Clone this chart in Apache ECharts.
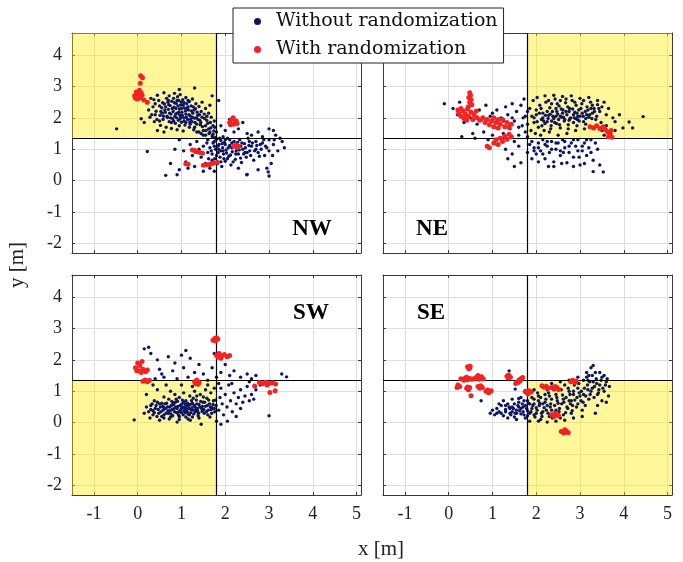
<!DOCTYPE html>
<html><head><meta charset="utf-8">
<script src="https://cdn.jsdelivr.net/npm/echarts@6/dist/echarts.min.js"></script>
<style>html,body{margin:0;padding:0;background:#fff}#c{width:683px;height:562px}</style>
</head><body><div id="c"></div>
<script>
const panelNames = ['NW','NE','SW','SE'];
const seriesNames = ['Without randomization','With randomization'];
const xRange = [-1.5, 5.1];
const yRange = [-2.3, 4.7];
const xSplit = 1.8;
const ySplit = 1.35;

const nwNavy = [[0.35,2.35],[0.42,2.21],[0.48,2.55],[0.51,2.08],[0.55,2.32],[0.58,1.95],[0.61,2.44],[0.63,2.18],[0.66,2.62],[0.68,2.01],[0.7,2.27],[0.72,1.88],[0.74,2.39],[0.76,2.12],[0.78,2.53],[0.8,1.97],[0.81,2.2],[0.83,2.34],[0.85,2.05],[0.86,1.83],[0.88,2.46],[0.9,2.15],[0.91,2.67],[0.93,1.92],[0.95,2.28],[0.96,2.09],[0.98,2.41],[1.0,1.86],[1.01,2.18],[1.03,2.58],[1.05,2.0],[1.07,2.31],[1.08,1.77],[1.1,2.12],[1.12,2.45],[1.14,1.95],[1.16,2.25],[1.18,1.7],[1.2,2.06],[1.22,2.38],[1.24,1.88],[1.26,2.15],[1.28,1.62],[1.3,1.99],[1.32,2.29],[1.35,1.8],[1.37,2.08],[1.4,1.55],[1.42,1.92],[1.45,2.2],[1.48,1.72],[1.5,1.45],[1.53,1.98],[1.56,1.6],[1.6,1.83],[1.63,1.5],[1.67,1.68],[1.7,1.42],[1.74,1.58],[1.78,1.38],
[0.22,2.48],[0.28,2.02],[0.3,2.62],[0.38,1.88],[0.45,2.72],[0.52,1.76],[0.6,2.8],[0.65,1.7],[0.72,2.7],[0.77,1.66],[0.84,2.78],[0.9,1.62],[0.97,2.74],[1.04,1.58],[1.1,2.65],[1.18,2.52],[1.25,2.6],[1.33,2.45],[1.4,2.36],[1.47,2.5],[1.55,2.3],[1.62,2.15],[1.68,2.02],[1.75,1.9],[0.15,1.85],[0.25,2.25],[0.4,2.45],[0.56,2.15],[0.69,2.5],[0.75,2.0],[0.82,2.62],[0.87,2.3],[0.94,2.55],[0.99,2.05],[1.06,2.48],[1.13,2.3],[1.19,1.85],[1.27,2.35],[1.34,2.0],[1.43,1.78],[1.52,2.12],[1.58,1.92],[1.65,2.4],[1.72,1.75],[0.45,1.6],[1.85,2.55],[1.3,2.95],[0.95,2.9],[0.6,1.55],[1.7,2.7],[-0.48,1.65],[0.22,0.93],[0.08,1.97],
[0.62,2.25],[0.67,2.05],[0.71,2.42],[0.73,2.15],[0.79,2.3],[0.82,1.9],[0.84,2.48],[0.87,2.12],[0.89,2.0],[0.92,2.38],[0.94,2.18],[0.97,1.98],[1.0,2.3],[1.02,2.08],[1.04,2.4],[1.06,1.9],[1.09,2.22],[1.11,2.02],[1.15,2.35],[1.17,2.1],[1.21,1.95],[1.23,2.22],[1.25,2.02],[1.29,2.25],[1.31,1.85],[1.36,2.18],[1.38,1.95],[1.41,2.1],[1.44,1.85],[1.47,2.02],[0.5,2.38],[0.53,2.2],[0.57,2.48],[0.59,2.05],[0.64,2.35],[0.77,1.85],[0.9,2.55],[1.0,2.5],[1.15,2.55],[0.7,2.55],[1.55,1.75],[1.58,2.05],[1.62,1.65],[1.66,1.85],[1.5,1.6],[1.45,1.5],[1.55,1.45],[1.65,1.55],[1.72,1.48],[1.76,1.7],[0.4,2.1],[0.44,1.95],[0.32,2.1],[0.37,2.58],[0.5,1.9],[1.2,1.8],[1.1,1.85],[0.95,1.75],[1.3,1.7],[1.35,1.55],
[1.6,1.3],[1.65,1.05],[1.7,0.85],[1.72,1.2],[1.76,0.7],[1.78,1.0],[1.8,1.32],[1.82,0.55],[1.84,0.9],[1.86,1.15],[1.88,0.75],[1.9,1.28],[1.92,0.45],[1.94,1.05],[1.96,0.85],[1.98,1.22],[2.0,0.62],[2.02,0.98],[2.05,1.35],[2.08,0.78],[2.1,1.12],[2.13,0.5],[2.16,0.92],[2.2,1.25],[2.23,0.68],[2.26,1.05],[2.3,0.85],[2.33,1.3],[2.37,0.58],[2.4,1.0],[2.44,1.18],[2.48,0.75],[2.52,1.35],[2.56,0.95],[2.6,1.1],[2.65,0.65],[2.7,1.25],[2.75,0.9],[2.8,1.15],[2.85,1.4],[2.9,0.8],[2.95,1.05],[3.0,1.3],[3.05,0.55],[3.1,1.15],[3.15,1.45],[3.2,0.95],[3.3,1.25],[3.35,1.05],[2.5,1.5],[2.2,1.55],[2.0,1.6],[1.9,1.75],[1.8,1.55],[2.3,1.65],[2.6,1.45],[2.75,1.55],[3.0,1.65],[3.1,1.6],[2.4,1.85],[2.1,1.95],[1.35,1.25],[1.4,1.0],[1.45,0.75],[1.5,1.1],[1.55,0.55],[1.25,0.8],[1.2,1.15],[1.1,0.6],[1.05,0.95],[0.95,0.35],[1.15,0.4],[1.3,0.45],[1.5,0.3],[1.65,0.4],[1.75,0.3],[2.3,0.4],[2.5,0.2],[2.75,0.35],[2.95,0.4],[3.0,0.15],[0.95,1.3],[0.85,1.0],[0.75,0.55],[1.6,0.9],[1.7,0.65],[1.85,1.0],[2.0,1.15],[2.15,1.2],[2.35,1.1],[2.45,0.9],[2.55,1.25],[1.95,0.95],[1.9,0.6],[2.05,0.7],[1.75,1.1],[2.25,0.95],[2.7,1.0],[2.85,1.2],[3.25,1.35],[0.64,0.17],[0.9,0.19],[2.49,0.19],[2.98,0.28],
[1.75,1.25],[1.8,0.8],[1.83,1.1],[1.87,1.35],[1.9,0.95],[1.93,1.18],[1.97,0.7],[2.0,1.3],[2.03,0.88],[2.07,1.05],[2.1,1.3],[2.12,0.82],[2.15,1.05],[2.18,0.6],[2.22,1.12],[2.24,0.85],[2.28,1.22],[2.32,0.98],[2.35,0.72],[2.38,1.2],[2.42,0.85],[2.46,1.05],[2.5,0.9],[2.54,1.12],[2.58,0.8],[2.62,1.2],[2.67,0.95],[2.72,1.12],[2.78,0.78],[2.82,1.0],[2.88,1.3],[2.92,1.1],[3.0,0.95],[3.08,0.8],[3.12,1.3],[1.68,0.95],[1.62,0.7],[1.58,1.2],[1.72,1.38],[1.95,1.4]];

const nwRed = [[-0.07,2.7],[-0.03,2.82],[0.02,2.75],[0.06,2.65],[0.0,2.6],[0.08,2.8],[-0.05,2.62],[0.04,2.88],[0.1,2.72],[0.07,3.34],[0.11,3.28],[0.14,2.57],[0.22,2.5],[0.06,3.1],
[2.1,1.85],[2.15,1.95],[2.2,1.8],[2.25,1.9],[2.18,2.0],[2.12,1.78],[2.27,1.82],
[2.2,1.1],[2.25,1.14],[2.3,1.1],[2.28,1.06],
[1.25,0.98],[1.3,0.96],[1.36,0.93],[1.42,0.9],[1.48,0.87],[1.33,0.92],
[1.1,0.54],[1.15,0.52],
[1.5,0.49],[1.58,0.51],[1.66,0.53],[1.74,0.56],[1.82,0.59],[1.62,0.5],[1.7,0.55]];

const neNavy = [[1.9,2.05],[1.95,1.85],[2.0,2.25],[2.05,1.7],[2.08,2.4],[2.12,1.95],[2.15,2.15],[2.18,1.6],[2.22,2.5],[2.25,1.88],[2.28,2.08],[2.31,2.32],[2.34,1.75],[2.37,2.2],[2.4,1.98],[2.43,2.6],[2.46,1.82],[2.49,2.12],[2.52,2.38],[2.55,1.68],[2.58,2.02],[2.61,2.25],[2.64,1.9],[2.67,2.48],[2.7,2.1],[2.73,1.78],[2.76,2.3],[2.79,2.0],[2.82,2.55],[2.85,1.85],[2.88,2.18],[2.91,2.4],[2.94,1.95],[2.97,2.25],[3.0,2.05],[3.04,2.45],[3.08,1.88],[3.12,2.2],[3.16,2.35],[3.2,2.02],[3.24,2.5],[3.28,2.15],[3.32,2.3],[3.36,1.95],[3.4,2.42],[3.45,2.2],[3.5,2.35],[3.55,2.5],[3.6,2.1],[3.48,1.85],
[1.85,2.3],[1.88,1.6],[1.93,2.55],[1.98,1.5],[2.02,2.65],[2.1,1.45],[2.2,2.7],[2.3,1.55],[2.4,2.72],[2.5,1.45],[2.6,2.68],[2.7,1.5],[2.8,2.7],[2.9,1.6],[3.0,2.62],[3.1,1.65],[3.2,2.65],[3.3,1.7],[3.4,2.55],[3.5,1.6],
[1.5,1.9],[1.55,2.2],[1.6,1.7],[1.65,2.4],[1.7,2.0],[1.75,1.55],[1.8,2.2],[1.45,2.45],[1.4,1.65],[1.35,2.1],[1.3,2.35],[1.25,1.5],[1.2,2.0],[1.15,1.35],[1.1,2.25],[1.05,1.7],[1.0,1.45],[0.95,2.05],[0.85,2.4],[0.8,1.55],[0.7,2.25],[0.65,1.8],[0.55,1.5],[0.45,2.35],[0.35,1.85],[0.25,2.5],[0.2,2.1],[0.1,2.3],[-0.1,2.45],[0.3,1.4],[0.6,1.35],[0.9,1.3],[1.6,1.45],[1.72,2.6],[1.8,1.4],
[3.6,1.75],[3.65,2.3],[3.7,1.5],[3.75,2.0],[3.8,1.6],[3.8,1.88],[3.98,1.68],[4.12,1.87],[4.2,1.68],[4.44,2.04],[3.9,2.1],[3.55,1.45],
[2.15,2.0],[2.25,2.2],[2.35,1.9],[2.45,2.3],[2.55,2.05],[2.65,1.95],[2.75,2.2],[2.85,2.1],[2.95,2.05],[3.05,2.15],[2.2,1.82],[2.6,2.15],[2.9,1.98],[2.0,2.1],[2.45,2.05],[2.75,1.92],[3.15,2.1],[2.35,2.45],[2.55,2.55],[3.25,2.3],
[1.95,2.0],[2.02,1.88],[2.07,2.15],[2.11,2.3],[2.17,1.9],[2.21,2.08],[2.27,1.98],[2.32,2.12],[2.38,2.05],[2.42,1.85],[2.47,2.2],[2.51,1.95],[2.57,2.28],[2.62,2.02],[2.68,2.2],[2.72,2.35],[2.77,1.98],[2.83,2.28],[2.87,2.0],[2.93,2.15],[2.98,1.9],[3.02,2.3],[3.07,2.05],[3.13,1.98],[3.18,2.25],[3.22,2.1],[3.27,1.98],[3.33,2.2],[3.38,2.05],[3.43,2.3],[2.13,1.75],[2.33,1.65],[2.53,1.78],[2.73,1.65],[2.93,1.75],[3.13,1.8],[2.28,2.55],[2.48,2.45],[2.68,2.6],[2.88,2.5],[3.08,2.55],[3.28,2.4],[1.8,1.8],[1.75,2.05],[1.68,1.75],[1.45,2.0],[1.25,1.9],[1.0,2.15],[0.75,1.95],[0.5,2.0],
[1.9,1.25],[1.95,1.05],[2.0,0.85],[2.05,1.2],[2.1,0.95],[2.15,1.3],[2.2,0.7],[2.25,1.1],[2.3,0.9],[2.35,1.25],[2.4,0.6],[2.45,1.0],[2.5,1.2],[2.55,0.8],[2.6,1.3],[2.65,1.05],[2.7,0.57],[2.75,0.9],[2.8,1.2],[2.85,0.75],[2.9,1.1],[2.95,1.3],[3.0,0.5],[3.05,0.95],[3.1,1.2],[3.15,0.8],[3.2,1.05],[3.25,1.3],[3.3,0.65],[3.3,0.29],[3.4,1.0],[3.45,0.5],[3.53,0.28],[1.5,0.45],[1.65,0.57],[1.8,0.9],[1.6,1.1],[1.45,0.85],[1.3,1.0],[1.5,1.25],[1.35,0.7],[1.1,1.15],[1.85,1.15],[2.05,0.6],[2.28,0.45],[2.62,0.9],[2.98,0.75],[3.35,1.2],
[1.95,0.95],[2.05,1.05],[2.15,0.85],[2.25,1.25],[2.35,1.0],[2.45,1.2],[2.55,0.95],[2.65,1.25],[2.75,1.1],[2.85,1.3],[2.95,0.95],[3.05,1.1],[3.15,1.3],[2.4,0.45],[2.58,0.55],[2.85,0.45],[3.1,0.55],[2.2,1.15],[1.9,0.7],[3.25,0.9]];

const neRed = [[0.48,2.8],[0.5,2.72],[0.46,2.65],[0.51,2.58],[0.48,2.5],[0.53,2.42],[0.45,2.35],
[0.23,2.15],[0.28,2.05],[0.33,2.22],[0.35,1.98],[0.38,2.12],[0.43,2.28],[0.45,2.05],[0.51,2.18],[0.55,1.95],[0.58,2.1],[0.63,2.22],[0.65,2.0],[0.71,1.92],[0.21,2.25],[0.28,2.3],[0.41,1.92],
[0.78,2.0],[0.83,1.85],[0.88,1.95],[0.93,1.78],[0.98,1.9],[1.03,1.72],[1.08,1.85],[1.13,1.68],[1.18,1.8],[1.23,1.95],[1.28,1.72],[1.33,1.85],[1.38,1.7],[1.43,1.8],[1.03,2.0],[1.13,1.95],
[1.03,1.2],[1.08,1.3],[1.13,1.15],[1.18,1.35],[1.23,1.25],[1.28,1.42],[1.33,1.32],[1.38,1.48],[1.43,1.4],[0.93,1.05],[0.88,1.1],
[3.23,1.72],[3.31,1.68],[3.38,1.75],[3.45,1.66],[3.53,1.72],[3.58,1.62],[3.63,1.55],[3.68,1.45],[3.73,1.38],[3.65,1.4],[3.71,1.6],[3.51,1.68]];

const swNavy = [[0.25,0.35],[0.3,0.55],[0.35,0.25],[0.4,0.45],[0.45,0.65],[0.48,0.3],[0.52,0.5],[0.55,0.2],[0.58,0.4],[0.62,0.6],[0.65,0.3],[0.68,0.5],[0.71,0.75],[0.74,0.38],[0.77,0.55],[0.8,0.22],[0.83,0.45],[0.86,0.65],[0.89,0.32],[0.92,0.52],[0.95,0.8],[0.98,0.4],[1.01,0.6],[1.04,0.25],[1.07,0.48],[1.1,0.7],[1.13,0.35],[1.16,0.55],[1.19,0.85],[1.22,0.42],[1.25,0.62],[1.28,0.28],[1.31,0.5],[1.34,0.72],[1.37,0.38],[1.4,0.58],[1.43,0.9],[1.46,0.45],[1.49,0.65],[1.52,0.3],[1.55,0.52],[1.58,0.78],[1.61,0.4],[1.64,0.6],[1.67,0.95],[1.7,0.48],[1.73,0.7],[1.76,0.35],[1.79,0.55],
[0.2,0.5],[0.28,0.15],[0.38,0.7],[0.5,0.08],[0.6,0.82],[0.72,0.12],[0.85,0.9],[0.95,0.1],[1.05,0.95],[1.15,0.12],[1.3,1.0],[1.4,0.15],[1.55,1.05],[1.65,0.18],[1.75,1.1],[1.8,0.05],[1.45,-0.05],[0.9,0.02],[1.2,0.08],[0.7,0.3],[0.82,0.58],[0.93,0.25],[1.0,0.45],[1.08,0.32],[1.12,0.52],[1.18,0.25],[1.24,0.48],[1.33,0.42],[1.38,0.22],[1.47,0.36],[1.6,0.25],[1.68,0.42],[0.6,0.48],[0.47,0.42],[0.35,0.38],[1.02,0.72],[0.78,0.68],[1.27,0.78],[1.5,0.82],[0.55,0.62],[-0.08,0.09],[0.15,0.3],
[0.3,0.42],[0.33,0.6],[0.38,0.32],[0.42,0.55],[0.44,0.2],[0.5,0.6],[0.53,0.35],[0.57,0.52],[0.6,0.25],[0.63,0.45],[0.66,0.62],[0.69,0.38],[0.73,0.5],[0.76,0.28],[0.79,0.42],[0.81,0.62],[0.84,0.35],[0.87,0.5],[0.9,0.45],[0.91,0.68],[0.94,0.35],[0.97,0.55],[1.0,0.32],[1.03,0.5],[1.05,0.65],[1.06,0.38],[1.09,0.58],[1.11,0.42],[1.14,0.62],[1.15,0.28],[1.17,0.45],[1.2,0.58],[1.21,0.32],[1.23,0.7],[1.26,0.4],[1.29,0.55],[1.32,0.35],[1.35,0.6],[1.36,0.45],[1.39,0.3],[1.42,0.5],[1.44,0.68],[1.48,0.52],[1.51,0.42],[1.53,0.65],[1.57,0.35],[1.59,0.55],[1.62,0.72],[1.66,0.5],[1.69,0.3],[1.72,0.58],[1.75,0.45],[1.78,0.72],[0.95,0.2],[1.1,0.18],[1.25,0.18],[0.75,0.18],[0.6,0.15],[1.35,0.85],[0.88,0.75],
[1.85,0.4],[1.88,0.8],[1.9,1.1],[1.93,0.6],[1.96,0.25],[2.0,0.9],[2.04,0.5],[2.08,1.2],[2.12,0.7],[2.16,0.35],[2.2,0.95],[2.25,0.6],[2.3,0.8],[2.35,1.05],[2.4,0.65],[2.45,0.85],[2.5,1.15],[2.55,0.7],[2.6,0.9],[2.65,0.75],[1.9,-0.05],[2.05,0.05],[2.25,0.2],[1.85,1.25],[2.15,1.25],[2.7,1.05],[2.8,1.2],[3.0,0.22],[2.55,1.3],[2.35,0.45],
[0.25,2.4],[0.3,2.2],[0.45,2.0],[0.5,1.7],[0.55,1.55],[0.6,1.45],[0.7,2.1],[0.8,1.65],[0.85,1.9],[0.9,1.4],[1.0,2.15],[1.05,1.75],[1.1,2.3],[1.2,2.05],[1.3,1.6],[1.4,1.85],[1.5,1.55],[1.6,1.35],[1.7,1.75],[1.75,2.2],[1.8,1.45],[1.9,1.6],[2.0,1.85],[2.1,1.5],[2.2,1.65],[2.35,1.45],[2.5,1.55],[2.6,1.4],[2.7,1.5],[3.29,1.55],[3.4,1.46],[0.4,1.4],[1.15,1.45],[1.35,1.3],[0.65,1.2],[0.75,1.0],[0.45,1.05],[0.35,1.2],[1.0,1.2],[1.25,1.15],[1.6,1.2],[0.2,0.9],[0.15,2.35]];

const swRed = [[1.72,2.62],[1.76,2.68],[1.8,2.7],[1.78,2.6],[1.83,2.66],
[1.8,2.15],[1.86,2.2],[1.92,2.12],[1.98,2.17],[2.04,2.1],[2.1,2.14],[1.9,2.05],[1.84,2.08],
[-0.05,1.75],[0.0,1.9],[0.05,1.82],[0.1,1.95],[0.03,1.65],[0.12,1.7],[0.18,1.62],[0.22,1.68],[0.08,1.6],[-0.02,1.65],
[0.12,1.32],[0.17,1.36],[0.22,1.3],[0.27,1.35],
[1.3,1.3],[1.35,1.36],[1.4,1.28],[1.38,1.22],[1.32,1.24],
[2.78,1.28],[2.85,1.24],[2.92,1.29],[3.0,1.25],[3.08,1.27],[3.15,1.23],[2.95,1.2],
[3.02,0.96],[3.14,1.02],[2.67,1.17]];

const seNavy = [[0.95,0.3],[1.0,0.4],[1.05,0.25],[1.1,0.45],[1.15,0.35],[1.2,0.55],[1.25,0.22],[1.3,0.42],[1.35,0.6],[1.4,0.3],[1.45,0.5],[1.5,0.18],[1.55,0.4],[1.6,0.65],[1.65,0.28],[1.7,0.5],[1.75,0.15],[1.8,0.38],[1.85,0.6],[1.9,0.8],[1.95,0.25],[2.0,0.48],[2.05,0.7],[2.1,0.1],[2.15,0.35],[2.2,0.9],[2.25,0.55],[2.3,0.2],[2.35,0.75],[2.4,1.05],[2.45,0.4],[2.5,0.62],[2.55,0.15],[2.6,0.88],[2.65,1.2],[2.7,0.5],[2.75,0.7],[2.8,0.3],[2.85,1.0],[2.9,1.3],[2.95,0.6],[3.0,0.85],[3.05,0.4],[3.1,1.1],[3.15,1.45],[3.2,0.75],[3.25,1.0],[3.3,1.3],[3.35,1.6],[3.4,0.9],[3.45,1.2],[3.5,1.45],[3.55,1.0],[3.6,1.3],[3.65,0.85],[3.67,1.15],
[1.15,0.6],[1.25,0.7],[1.35,0.15],[1.45,0.75],[1.55,0.1],[1.65,0.8],[1.75,0.95],[1.85,0.05],[1.95,1.05],[2.05,0.05],[2.15,1.15],[2.25,0.02],[2.35,1.25],[2.45,0.05],[2.55,1.3],[2.65,0.08],[2.75,1.35],[2.85,0.15],[2.95,1.45],[3.05,0.2],[3.15,1.6],[3.25,1.75],[3.3,1.82],[3.2,1.5],[3.45,1.6],[3.55,1.5],[3.5,0.7],[3.4,0.55],[3.6,0.65],[3.35,0.3],
[1.55,0.3],[1.7,0.35],[1.8,0.22],[1.9,0.45],[2.0,0.3],[2.07,0.55],[2.13,0.2],[2.23,0.4],[2.33,0.6],[2.4,0.28],[2.47,0.8],[2.53,0.45],[2.63,0.65],[2.67,0.32],[2.77,0.9],[2.83,0.55],[2.93,0.8],[3.03,1.0],[3.07,0.65],[3.17,1.2],[3.23,0.9],[3.33,1.15],[3.37,1.4],[3.43,1.05],[2.3,0.85],[2.57,1.05],[2.73,1.1],[2.87,1.2],[2.97,1.25],[1.4,0.45],[1.5,0.6],[1.6,0.5],[1.3,0.55],[1.2,0.3],[1.1,0.3],[1.85,0.3],[1.95,0.6],[2.2,0.65],[2.35,0.4],[2.5,0.25],[1.65,0.45],[1.45,0.35],[2.1,0.8],[2.8,0.7],[3.13,0.85],[1.8,0.7],[1.9,1.0],[2.03,0.95],[1.75,0.55],[2.25,1.05],
[1.3,0.35],[1.38,0.5],[1.42,0.25],[1.48,0.45],[1.52,0.3],[1.58,0.55],[1.62,0.38],[1.68,0.6],[1.72,0.25],[1.78,0.45],[1.82,0.62],[1.88,0.35],[1.92,0.55],[1.97,0.18],[2.02,0.4],[2.08,0.62],[2.12,0.3],[2.18,0.48],[2.22,0.75],[2.27,0.3],[2.32,0.5],[2.37,0.15],[2.42,0.55],[2.48,0.7],[2.52,0.35],[2.58,0.6],[2.62,0.25],[2.68,0.8],[2.72,0.45],[2.78,0.6],[2.82,0.38],[2.88,0.72],[2.92,0.5],[2.98,0.95],[3.02,0.7],[3.08,0.9],[3.12,0.55],[3.18,1.05],[3.22,1.3],[3.28,1.1],[3.32,0.8],[3.38,1.25],[3.42,0.95],[3.48,1.35],[3.52,1.1],[3.58,1.2],[3.62,1.4],[3.28,1.5],[3.18,1.35],[3.08,1.35],[2.95,1.1],[2.85,0.9],[2.75,1.0],[2.62,0.75],[2.45,0.9],[2.28,0.95],[2.15,0.6],[2.05,0.85],[1.95,0.75],[1.72,0.7],
[1.38,1.65],[0.74,0.7],[1.52,1.07],[1.6,0.77]];

const seRed = [[0.43,1.78],[0.48,1.74],[0.46,1.72],[0.49,1.8],
[0.28,1.4],[0.33,1.38],[0.38,1.42],[0.43,1.37],[0.48,1.41],[0.53,1.38],[0.57,1.4],[0.41,1.45],[0.35,1.35],
[0.63,1.45],[0.67,1.5],[0.71,1.42],[0.75,1.46],[0.69,1.38],[0.79,1.4],
[0.41,1.1],[0.45,1.05],[0.48,1.12],[0.43,1.14],
[0.67,1.15],[0.73,1.18],[0.77,1.12],[0.71,1.1],
[0.85,1.0],[0.89,1.04],[0.93,0.98],[0.97,1.02],[0.91,0.95],
[0.51,0.86],
[0.21,1.2],[0.25,1.15],[0.19,1.12],
[1.33,1.48],[1.37,1.52],[1.41,1.45],[1.36,1.42],
[1.53,1.25],[1.57,1.3],[1.61,1.36],[1.65,1.4],[1.69,1.44],[1.59,1.28],[1.63,1.33],
[1.75,1.0],[1.79,0.96],[1.83,1.02],[1.88,0.98],[1.81,0.92],
[2.13,1.18],[2.18,1.13],[2.23,1.16],[2.27,1.1],
[2.35,1.12],[2.41,1.08],[2.47,1.12],[2.51,1.06],[2.43,1.15],
[2.79,1.3],[2.83,1.35],[2.88,1.28],[2.91,1.33],
[2.35,0.25],[2.41,0.2],[2.48,0.27],[2.51,0.22],[2.43,0.3],
[2.57,-0.28],[2.63,-0.33],[2.69,-0.27],[2.73,-0.32],[2.65,-0.22]];

const navyData = [nwNavy, neNavy, swNavy, seNavy];
const redData = [nwRed, neRed, swRed, seRed];

const FONT = '"Liberation Serif", "DejaVu Serif", serif';
const LFONT = '"DejaVu Serif", serif';
const NAVY = '#0c1466';
const RED = '#f52222';
const AXC = '#3a3a3a';

const grids = [
  {left:72, top:33, width:289, height:220},
  {left:383, top:33, width:289, height:220},
  {left:72, top:275, width:289, height:220},
  {left:383, top:275, width:289, height:220}
];
// shaded quadrant per panel: [xFrom, xTo, yFrom, yTo]
const shade = [
  [xRange[0], xSplit, ySplit, yRange[1]],
  [xSplit, xRange[1], ySplit, yRange[1]],
  [xRange[0], xSplit, yRange[0], ySplit],
  [xSplit, xRange[1], yRange[0], ySplit]
];

const xAxes = [], yAxes = [], series = [];
grids.forEach((g, i) => {
  const showX = i >= 2, showY = (i % 2) === 0;
  const base = {type:'value', gridIndex:i, splitNumber:6,
    axisLine:{show:true, onZero:false, lineStyle:{color:AXC, width:1}},
    axisTick:{show:true, inside:true, length:3, lineStyle:{color:AXC}}};
  xAxes.push(Object.assign({}, base, {min:xRange[0], max:xRange[1], position:'bottom',
    axisLabel:{show:showX, showMinLabel:false, showMaxLabel:false, margin:10, color:'#222', fontFamily:FONT, fontSize:18},
    splitLine:{show:true, lineStyle:{color:'#dedede', width:1}}}));
  xAxes.push(Object.assign({}, base, {min:xRange[0], max:xRange[1], position:'top',
    axisLabel:{show:false}, splitLine:{show:false}}));
  const ybase = Object.assign({}, base, {splitNumber:7});
  yAxes.push(Object.assign({}, ybase, {min:yRange[0], max:yRange[1], position:'left',
    axisLabel:{show:showY, showMinLabel:false, showMaxLabel:false, margin:10, color:'#222', fontFamily:FONT, fontSize:18},
    splitLine:{show:true, lineStyle:{color:'#dedede', width:1}}}));
  yAxes.push(Object.assign({}, ybase, {min:yRange[0], max:yRange[1], position:'right',
    axisLabel:{show:false}, splitLine:{show:false}}));
  const s = shade[i];
  series.push({type:'scatter', name:'shade'+i, xAxisIndex:2*i, yAxisIndex:2*i, data:[], z:1, silent:true,
    markArea:{silent:true, itemStyle:{color:'rgba(255,236,0,0.4)'},
      data:[[{coord:[s[0], s[2]]},{coord:[s[1], s[3]]}]]}});
  series.push({type:'scatter', name:'lines'+i, xAxisIndex:2*i, yAxisIndex:2*i, data:[], z:3, silent:true,
    markLine:{silent:true, symbol:['none','none'], label:{show:false}, animation:false,
      lineStyle:{color:'#000', type:'solid', width:1.2},
      data:[{xAxis:xSplit},{yAxis:ySplit}]}});
  series.push({type:'scatter', name:seriesNames[0], xAxisIndex:2*i, yAxisIndex:2*i, z:4,
    data:navyData[i], symbolSize:3.4, itemStyle:{color:NAVY, opacity:1}});
  series.push({type:'scatter', name:seriesNames[1], xAxisIndex:2*i, yAxisIndex:2*i, z:5,
    data:redData[i], symbolSize:5, itemStyle:{color:RED, opacity:1}});
});

const labelPos = [[312,229],[432,229],[311,313],[431,313]];
const graphics = panelNames.map((n, i) => ({type:'text', x:labelPos[i][0], y:labelPos[i][1], z:10,
  style:{text:n, fontFamily:FONT, fontWeight:'bold', fontSize:23, fill:'#000', align:'center', verticalAlign:'middle'}}));
graphics.push({type:'text', x:381, y:549, z:10, style:{text:'x [m]', fontFamily:FONT, fontSize:21, fill:'#222', align:'center', verticalAlign:'middle'}});
graphics.push({type:'text', x:17, y:265, rotation:Math.PI/2, z:10, style:{text:'y [m]', fontFamily:FONT, fontSize:21, fill:'#222', align:'center', verticalAlign:'middle'}});

const chart = echarts.init(document.getElementById('c'), null, {renderer:'canvas'});
chart.setOption({
  animation:false,
  grid:grids,
  xAxis:xAxes,
  yAxis:yAxes,
  legend:{data:[{name:seriesNames[0], itemStyle:{color:NAVY}},{name:seriesNames[1], itemStyle:{color:RED}}],
    left:233, top:8, orient:'vertical', icon:'circle', itemWidth:7, itemHeight:7, itemGap:9,
    padding:[4,6,4,21], borderColor:'#222', borderWidth:1, backgroundColor:'#fff', selectedMode:false, z:20,
    textStyle:{fontFamily:LFONT, fontSize:19, color:'#111', padding:[0,0,0,10]}},
  graphic:graphics,
  series:series
});
</script></body></html>
